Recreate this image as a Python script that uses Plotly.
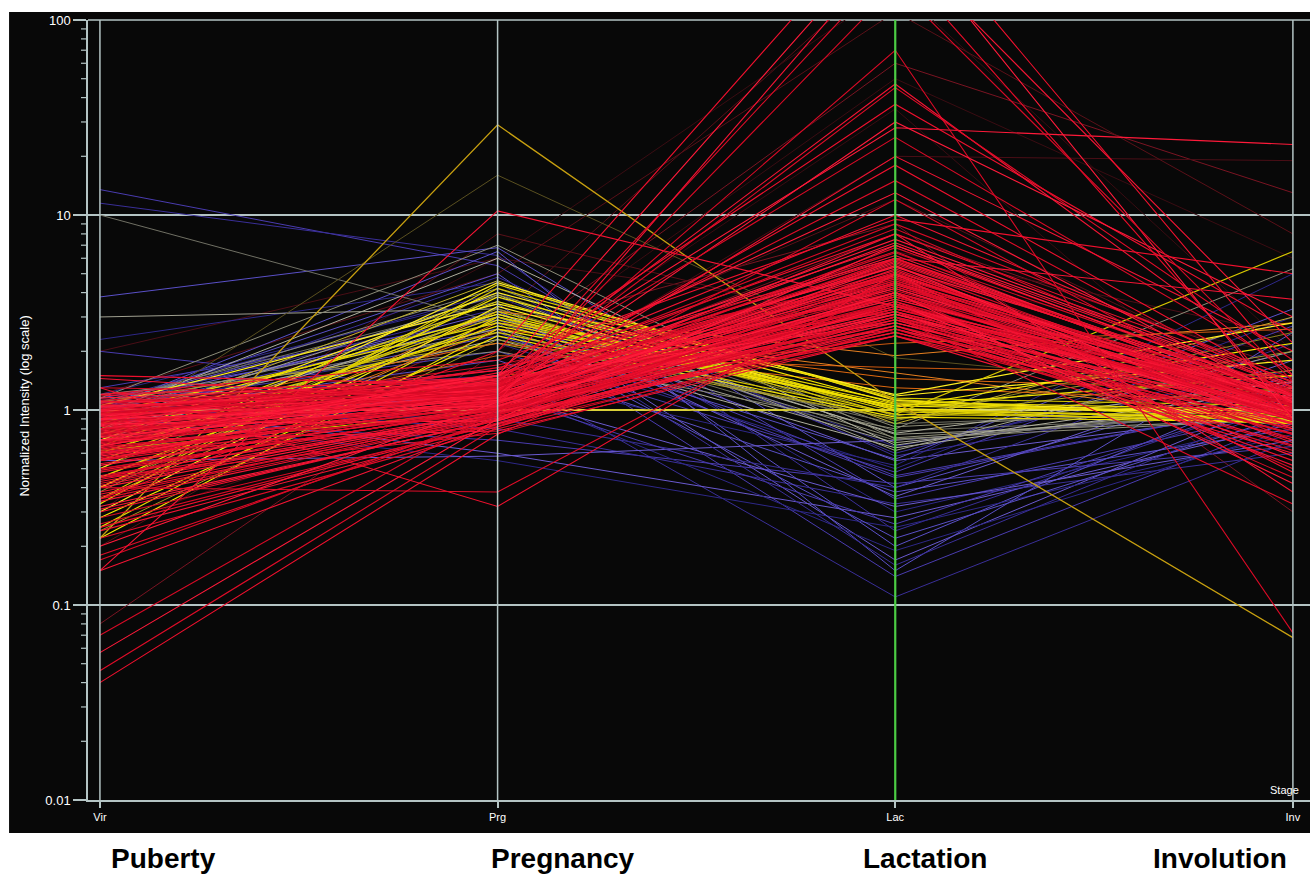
import plotly.graph_objects as go

stages = ["Vir", "Prg", "Lac", "Inv"]
stage_names = ["Puberty", "Pregnancy", "Lactation", "Involution"]
y_tick_vals = [0.01, 0.1, 1, 10, 100]
y_tick_text = ["0.01", "0.1", "1", "10", "100"]

# each row: [Vir, Prg, Lac, Inv]
blue_profiles = [
    [13.5, 5.5, 0.35, 1.0], [11.5, 6.2, 0.24, 1.2], [3.8, 6.8, 0.40, 1.5], [2.3, 4.5, 0.30, 0.9],
    [1.05, 3.0, 0.55, 1.0], [1.00, 2.5, 0.45, 1.1], [1.10, 4.0, 0.60, 2.0], [0.95, 1.8, 0.38, 0.8],
    [1.02, 2.2, 0.50, 3.0], [1.08, 3.5, 0.17, 1.2], [0.98, 2.8, 0.14, 0.9], [1.00, 1.6, 0.11, 0.7],
    [1.03, 5.0, 0.20, 1.4], [0.92, 0.55, 0.25, 0.75], [1.06, 0.60, 0.28, 0.85], [0.90, 0.70, 0.42, 0.65],
    [1.10, 0.80, 0.33, 0.60], [1.00, 6.5, 0.15, 2.5], [1.12, 1.5, 0.52, 5.0], [0.97, 3.2, 0.36, 1.8],
    [1.04, 2.0, 0.48, 2.7], [0.94, 4.8, 0.58, 1.3], [1.15, 2.6, 0.22, 0.95], [1.20, 3.8, 0.65, 1.6],
    [0.88, 1.2, 0.32, 0.7], [1.30, 2.9, 0.46, 1.1], [1.00, 0.90, 0.40, 2.2], [0.96, 2.4, 0.56, 3.3],
    [0.60, 1.3, 0.19, 0.8], [0.55, 0.58, 0.70, 1.0], [2.0, 1.2, 0.26, 1.2], [1.05, 3.3, 0.16, 1.1],
]
grey_profiles = [
    [1.0, 3.0, 0.72, 1.0], [0.9, 2.6, 0.68, 1.1], [1.1, 3.6, 0.78, 0.95], [0.8, 2.3, 0.64, 1.2],
    [1.05, 4.2, 0.82, 1.05], [3.0, 3.3, 0.75, 0.9], [10.0, 2.8, 0.70, 1.0], [0.95, 6.0, 0.66, 1.3],
    [1.2, 2.0, 0.80, 5.3], [0.85, 3.9, 0.62, 2.0], [1.0, 2.5, 0.85, 1.0], [0.7, 3.1, 0.76, 1.4],
    [1.15, 7.0, 0.71, 0.9],
]
olive_profiles = [
    [0.24, 2.3, 0.90, 1.3], [0.50, 3.3, 0.88, 2.5], [0.80, 4.6, 0.85, 3.0], [1.10, 2.2, 0.90, 1.6],
    [0.38, 3.9, 0.93, 2.0], [0.74, 16.0, 1.85, 1.2],
]
orange_profiles = [
    [0.45, 2.6, 1.45, 1.25], [0.70, 1.9, 1.65, 1.50], [0.40, 3.2, 1.90, 2.80], [0.90, 2.2, 1.30, 1.10],
    [0.55, 1.5, 2.20, 2.60], [0.35, 2.8, 1.55, 0.85],
]
yellow_profiles = [
    [0.22, 2.6, 1.05, 0.95], [0.25, 3.0, 1.10, 1.00], [0.30, 3.4, 1.00, 0.90], [0.35, 4.2, 1.15, 1.05],
    [0.40, 3.8, 1.08, 0.98], [0.45, 2.9, 1.02, 0.88], [0.50, 4.5, 1.12, 0.92], [0.55, 3.2, 0.98, 0.86],
    [0.60, 2.7, 1.05, 1.50], [0.65, 3.6, 1.00, 0.85], [0.70, 4.0, 1.18, 1.80], [0.75, 2.5, 0.95, 0.90],
    [0.85, 3.1, 1.03, 2.20], [0.95, 2.8, 1.07, 0.95], [1.05, 3.5, 1.20, 2.80], [0.60, 3.0, 0.95, 6.5],
    [0.28, 2.4, 0.92, 0.87], [0.33, 4.4, 1.13, 0.88], [1.00, 1.00, 1.00, 1.00], [0.62, 1.00, 1.00, 0.92],
]
gold_profiles = [
    [0.22, 29.0, 1.10, 0.068],
]
dark_red_profiles = [
    [0.20, 3.0, 200.0, 1.0], [0.50, 6.0, 150.0, 2.0], [0.08, 2.0, 60.0, 13.0], [0.25, 1.2, 20.0, 19.0],
    [1.2, 5.0, 110.0, 8.0], [0.6, 1.5, 35.0, 0.6], [0.4, 2.5, 9.0, 0.3], [2.0, 6.0, 3.0, 1.1],
    [0.3, 8.0, 2.5, 0.8], [0.9, 1.8, 50.0, 6.0], [0.7, 1.3, 8.0, 1.6], [0.5, 1.1, 6.5, 2.4],
    [1.0, 1.6, 12.0, 1.3], [0.45, 0.9, 5.0, 1.9],
]
red_profiles = [
    [0.45, 1.05, 3.1, 1.00], [0.62, 1.12, 3.6, 0.95], [0.80, 1.20, 4.2, 1.05], [0.95, 1.30, 5.0, 1.10],
    [1.05, 1.25, 2.6, 0.90], [0.38, 0.95, 2.4, 0.85], [0.55, 1.00, 2.8, 1.00], [0.70, 1.10, 3.3, 1.15],
    [0.88, 1.15, 3.9, 0.92], [1.10, 1.40, 6.0, 1.20], [0.30, 0.90, 2.5, 0.80], [0.48, 1.02, 3.0, 1.08],
    [0.66, 1.18, 4.6, 1.25], [0.92, 1.35, 5.5, 1.00], [1.20, 1.45, 7.0, 1.30], [0.25, 0.85, 2.9, 0.70],
    [0.42, 0.98, 3.4, 0.95], [0.58, 1.08, 3.8, 1.02], [0.75, 1.22, 4.4, 1.12], [0.98, 1.28, 4.8, 0.88],
    [1.00, 1.50, 8.0, 1.40], [0.35, 0.92, 2.7, 0.75], [0.52, 1.04, 3.2, 0.98], [0.68, 1.14, 3.7, 1.06],
    [0.85, 1.26, 4.5, 1.18], [1.02, 1.32, 5.2, 0.96], [0.22, 0.80, 2.6, 0.65], [0.40, 0.96, 3.5, 0.90],
    [0.60, 1.06, 4.0, 1.04], [0.78, 1.16, 4.3, 1.10], [0.94, 1.24, 5.8, 1.22], [1.08, 1.38, 6.5, 1.05],
    [0.32, 0.88, 3.1, 0.85], [0.50, 1.00, 3.6, 0.98], [0.64, 1.10, 2.9, 0.92], [0.82, 1.20, 3.3, 1.00],
    [0.96, 1.30, 4.1, 1.14], [1.15, 1.42, 5.4, 1.28], [0.28, 0.84, 2.4, 0.72], [0.46, 0.98, 2.8, 0.86],
    [0.72, 1.12, 3.5, 0.94], [0.90, 1.22, 4.7, 1.08], [1.04, 1.34, 6.2, 1.16], [0.36, 0.94, 3.9, 0.88],
    [0.56, 1.04, 4.4, 1.00], [0.74, 1.18, 5.1, 1.12], [0.86, 1.28, 5.6, 1.20], [0.99, 1.36, 7.5, 1.35],
    [0.26, 0.86, 3.2, 0.78], [0.44, 0.97, 3.0, 0.92], [0.63, 1.09, 3.4, 1.02], [0.79, 1.19, 3.8, 1.10],
    [0.93, 1.27, 4.2, 0.98], [1.12, 1.44, 9.0, 1.45], [0.34, 0.91, 2.6, 0.82], [0.53, 1.03, 2.9, 0.94],
    [0.69, 1.13, 3.3, 1.06], [0.84, 1.23, 3.7, 1.14], [1.01, 1.33, 4.6, 1.04], [0.41, 0.99, 5.3, 0.96],
    [0.59, 1.07, 6.0, 1.10], [0.77, 1.17, 6.8, 1.24], [0.89, 1.29, 7.2, 1.32], [1.06, 1.39, 8.5, 1.15],
    [0.31, 0.89, 4.0, 0.84], [0.49, 1.01, 4.5, 0.97], [0.67, 1.11, 5.0, 1.05], [0.83, 1.21, 5.7, 1.18],
    [0.97, 1.31, 6.4, 1.26], [0.24, 0.82, 3.6, 0.68], [0.43, 0.95, 3.9, 0.90], [0.61, 1.05, 4.3, 1.01],
    [0.76, 1.15, 4.9, 1.09], [0.91, 1.25, 5.9, 1.21], [1.18, 1.48, 10.0, 1.38], [0.37, 0.93, 2.5, 0.76],
    [0.57, 1.02, 2.7, 0.89], [0.73, 1.12, 3.1, 0.97], [0.87, 1.22, 3.5, 1.07], [1.03, 1.37, 4.0, 1.19],
    [0.65, 1.55, 3.2, 1.00], [0.80, 1.65, 3.8, 1.10], [0.55, 1.45, 2.8, 0.90], [0.90, 1.70, 4.8, 1.20],
    [0.70, 0.78, 2.4, 0.60], [0.60, 0.82, 3.0, 0.55], [0.45, 0.76, 2.6, 0.62], [0.85, 0.88, 3.5, 0.58],
    [1.30, 1.20, 4.0, 0.50], [1.45, 1.10, 3.2, 0.52], [1.50, 1.35, 5.0, 0.48], [0.18, 0.90, 4.5, 0.70],
    [0.20, 1.10, 5.5, 0.80], [0.17, 0.95, 3.0, 0.75], [0.15, 0.85, 2.7, 0.66], [0.040, 0.75, 6.0, 1.10],
    [0.046, 0.82, 5.0, 1.00], [0.057, 0.90, 7.0, 1.20], [0.070, 1.00, 4.0, 0.90], [0.15, 10.5, 3.4, 1.20],
    [1.30, 0.32, 5.0, 1.00], [0.40, 0.38, 4.5, 0.90], [0.90, 1.50, 28.0, 23.0], [1.00, 1.20, 70.0, 0.072],
    [0.80, 1.40, 47.0, 1.50], [0.90, 1.60, 37.0, 2.50], [1.10, 1.30, 45.0, 1.80], [0.70, 1.20, 30.0, 3.00],
    [0.95, 1.45, 25.0, 1.60], [0.60, 1.10, 20.0, 2.00], [0.85, 1.25, 18.0, 1.30], [0.75, 1.35, 15.0, 1.20],
    [0.65, 1.50, 13.0, 1.10], [0.50, 1.00, 12.0, 0.95], [1.00, 1.60, 6.0, 3.70], [1.20, 1.80, 9.5, 5.00],
    [0.55, 1.30, 200.0, 1.00], [0.70, 1.50, 300.0, 0.90], [0.45, 1.20, 150.0, 1.40], [0.95, 1.10, 250.0, 2.20],
    [0.35, 2.00, 400.0, 1.50], [0.80, 1.00, 3.0, 0.33], [0.90, 1.05, 4.0, 0.42], [0.65, 0.95, 3.5, 0.45],
    [1.10, 1.15, 8.0, 0.38],
]

fig = go.Figure()

def add_group(rows, colors, width=1.0):
    for i, row in enumerate(rows):
        fig.add_trace(go.Scatter(
            x=stages, y=row, mode="lines",
            line=dict(color=colors[i % len(colors)], width=width),
            hoverinfo="skip", showlegend=False,
        ))

add_group(dark_red_profiles, ["#5a1018", "#3a0c12", "#7a1422", "#4a0e16"], 1.0)
add_group(blue_profiles, ["#4a3cb0", "#3a2f98", "#5a50c8", "#2e2888", "#6a5ad0"], 1.0)
add_group(grey_profiles, ["#8c8c78", "#a0a090", "#707064", "#b0b0a0"], 1.0)
add_group(olive_profiles, ["#a89a20", "#8a8420", "#c0b030", "#b0a428", "#a09a30", "#5a5020"], 1.0)
add_group(orange_profiles, ["#e06a10", "#d05a10", "#e88020"], 1.0)
add_group(yellow_profiles, ["#f5e600", "#e8d800", "#ffee20", "#d8c800"], 1.2)
add_group(gold_profiles, ["#c8a010"], 1.3)
add_group(red_profiles, ["#f0102e", "#e00c28", "#ff1a3a", "#d80a26", "#f41434"], 1.1)

grid_col = "#b4c4c4"
shapes = [
    dict(type="rect", xref="paper", yref="paper", x0=-0.0646, x1=1.0, y0=-0.0423, y1=1.0103,
         fillcolor="#080808", line=dict(width=0), layer="below"),
]
for s in stages:
    shapes.append(dict(type="line", xref="x", yref="paper", x0=s, x1=s, y0=0, y1=1,
                       line=dict(color="#4ccc44" if s == "Lac" else grid_col,
                                 width=2.2 if s == "Lac" else 1.5),
                       layer="above"))
shapes.append(dict(type="line", xref="paper", yref="paper", x0=0, x1=1, y0=1, y1=1,
                   line=dict(color=grid_col, width=1.5), layer="below"))
# minor log ticks on the y axis (2..9 in each decade)
for e in range(-2, 2):
    for m in range(2, 10):
        v = m * 10 ** e
        shapes.append(dict(type="line", xref="paper", yref="y", x0=-7 / 1222, x1=0, y0=v, y1=v,
                           line=dict(color=grid_col, width=1.2), layer="above"))

annotations = [
    dict(text="Normalized Intensity (log scale)", xref="paper", yref="paper", x=-0.052, y=0.505,
         textangle=-90, showarrow=False, font=dict(family="Arial", size=13, color="white"),
         xanchor="center", yanchor="middle"),
    dict(text="Stage", xref="paper", yref="paper", x=0.993, y=0.002, xanchor="right", yanchor="bottom",
         showarrow=False, font=dict(family="Arial", size=11, color="white")),
]
label_px = [163, 563, 925, 1220]
for name, px in zip(stage_names, label_px):
    annotations.append(dict(text="<b>%s</b>" % name, xref="paper", yref="paper",
                            x=(px - 88) / 1222, y=(800 - 858) / 780, xanchor="center", yanchor="middle",
                            showarrow=False, font=dict(family="Arial", size=28, color="black")))

fig.update_layout(
    width=1314, height=874,
    margin=dict(l=88, r=4, t=20, b=74),
    paper_bgcolor="white", plot_bgcolor="#080808",
    shapes=shapes, annotations=annotations, showlegend=False,
    xaxis=dict(type="category", range=[-0.03, 3.043], showgrid=False, zeroline=False,
               showline=True, linecolor=grid_col, linewidth=1.5,
               ticks="outside", ticklen=6, tickcolor=grid_col, tickwidth=1.5,
               tickfont=dict(family="Arial", size=11, color="white")),
    yaxis=dict(type="log", range=[-2, 2], tickvals=y_tick_vals, ticktext=y_tick_text,
               showgrid=True, gridcolor=grid_col, gridwidth=1.5, zeroline=False,
               showline=True, linecolor=grid_col, linewidth=1.5,
               ticks="outside", ticklen=13, tickcolor=grid_col, tickwidth=1.5,
               tickfont=dict(family="Arial", size=13, color="white")),
)

fig.write_html("out.html")
